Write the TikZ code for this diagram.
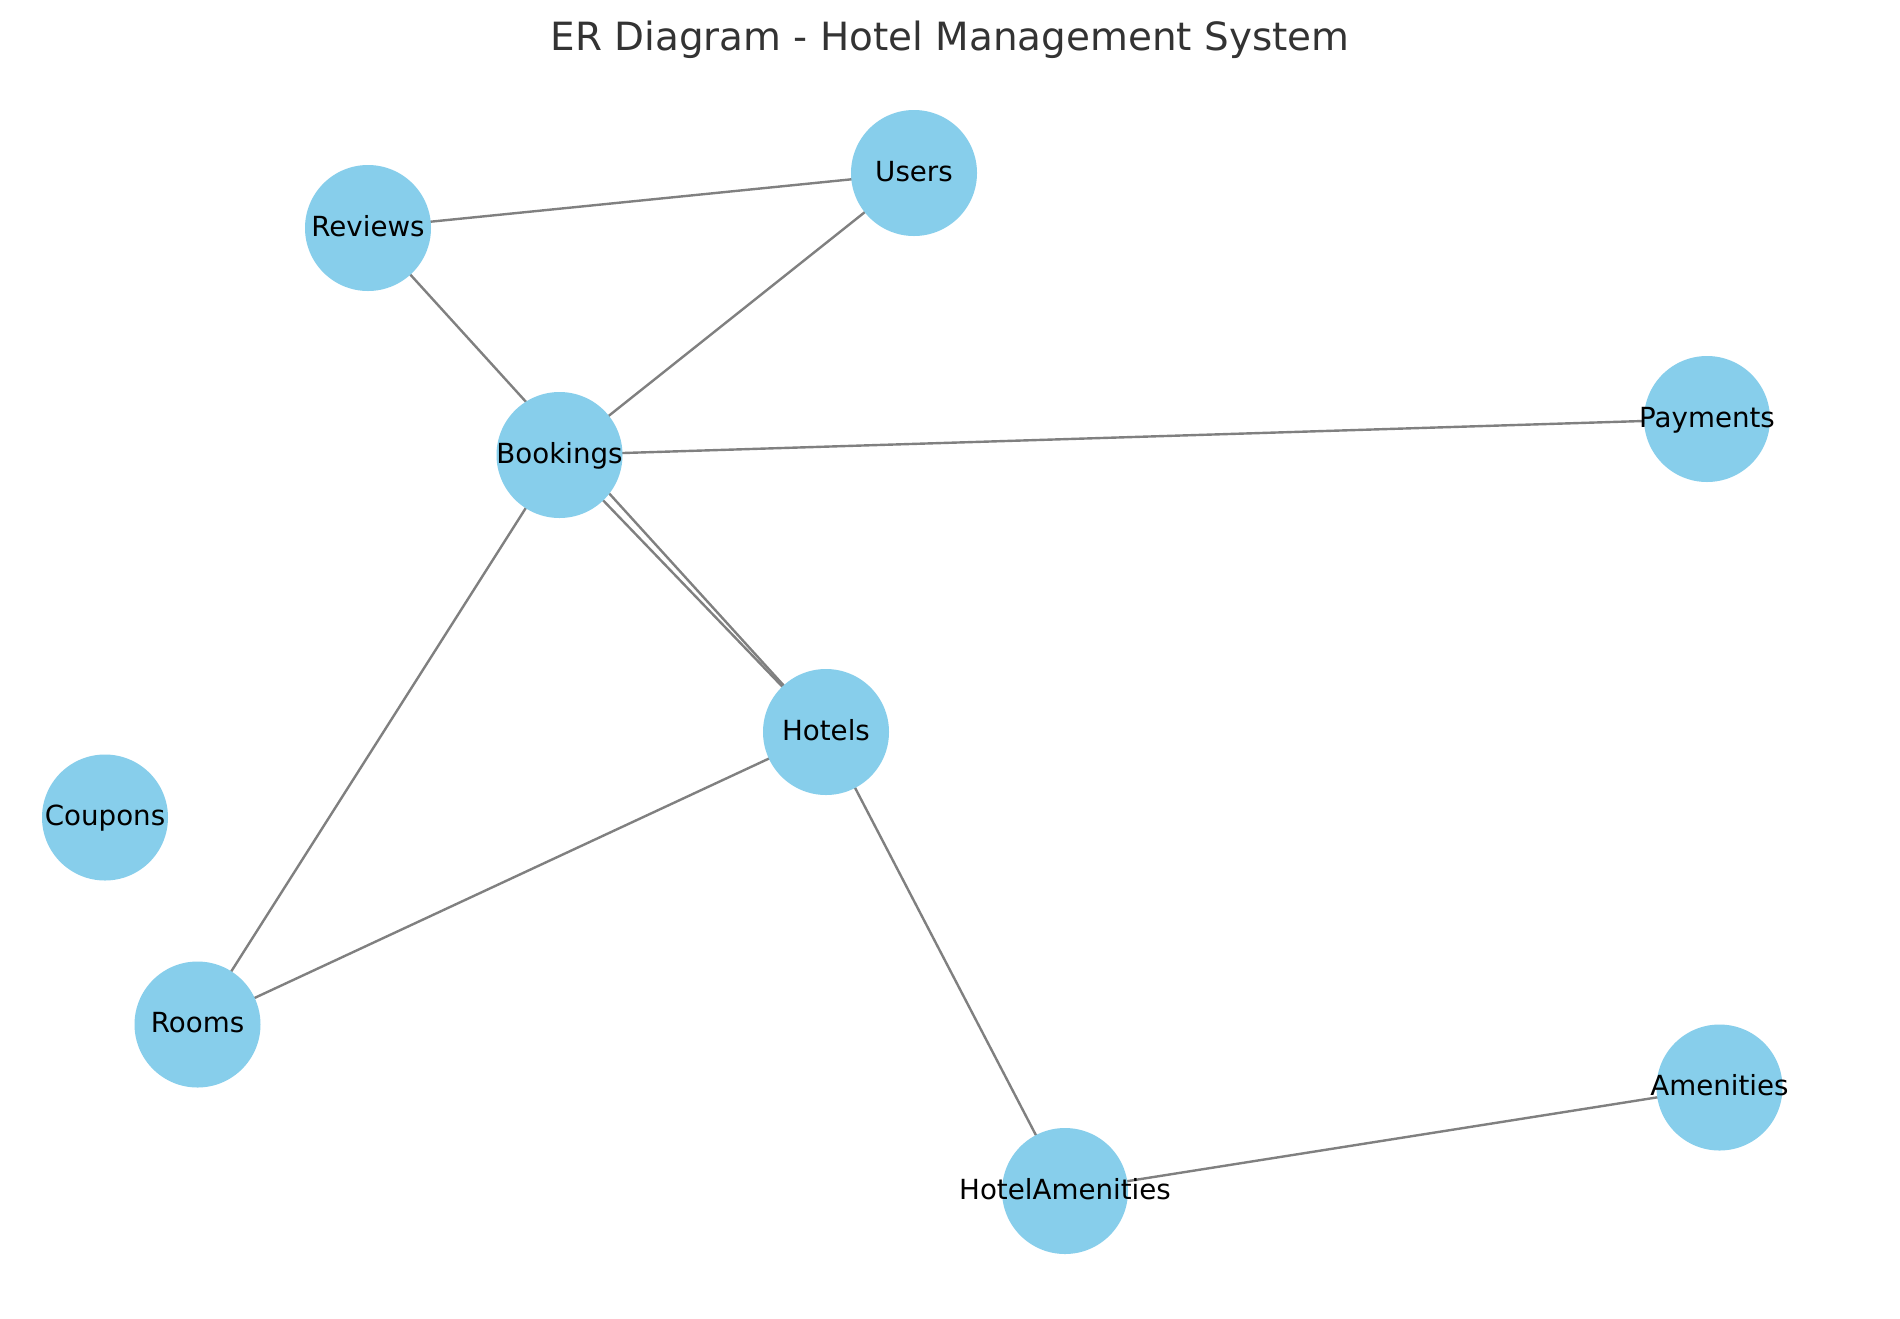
\documentclass[tikz,border=0pt]{standalone}
\usepackage{fontspec}
\setmainfont{DejaVu Sans}
\definecolor{skyblue}{HTML}{87CEEB}
\definecolor{edgegray}{HTML}{808080}
\definecolor{titlegray}{HTML}{333333}
\pgfdeclarelayer{bg}
\pgfsetlayers{bg,main}
\tikzset{
  ent/.style={circle, fill=skyblue, draw=none, minimum size=63pt, inner sep=0pt},
  lbl/.style={anchor=base, yshift=-4pt, inner sep=0pt, text=black, font=\fontsize{13.85pt}{16pt}\selectfont},
  rel/.style={draw=edgegray, line width=1.2pt},
  ttl/.style={anchor=base, inner sep=0pt, text=titlegray, font=\fontsize{19.45pt}{23pt}\selectfont}
}
\begin{document}
\begin{tikzpicture}[x=0.5pt, y=-0.5pt]
\useasboundingbox (0,0) rectangle (1900,1318);
\node[ttl] (title) at (950,50) {ER Diagram - Hotel Management System};

\node[ent] (Users) at (914,173) {};
\node[ent] (Reviews) at (368,228) {};
\node[ent] (Bookings) at (559.5,455) {};
\node[ent] (Payments) at (1707,419) {};
\node[ent] (Hotels) at (826,732) {};
\node[ent] (Coupons) at (105,817.5) {};
\node[ent] (Rooms) at (197.5,1024.5) {};
\node[ent] (Amenities) at (1719.5,1087.5) {};
\node[ent] (HotelAmenities) at (1065,1191) {};

\node[lbl] (UsersL) at (Users) {Users};
\node[lbl] (ReviewsL) at (Reviews) {Reviews};
\node[lbl] (BookingsL) at (Bookings) {Bookings};
\node[lbl] (PaymentsL) at (Payments) {Payments};
\node[lbl] (HotelsL) at (Hotels) {Hotels};
\node[lbl] (CouponsL) at (Coupons) {Coupons};
\node[lbl] (RoomsL) at (Rooms) {Rooms};
\node[lbl] (AmenitiesL) at (Amenities) {Amenities};
\node[lbl] (HotelAmenitiesL) at (HotelAmenities) {HotelAmenities};

\begin{pgfonlayer}{bg}
\fill[white] (0,0) rectangle (1900,1318);
\draw[rel] (Reviews.center) -- (Users.center);
\draw[rel] (Users.center) -- (Bookings.center);
\draw[rel] (Reviews.center) -- (Hotels.center);
\draw[rel] (Bookings.center) -- (Hotels.center);
\draw[rel] (Bookings.center) -- (Payments.center);
\draw[rel] (Bookings.center) -- (Rooms.center);
\draw[rel] (Hotels.center) -- (Rooms.center);
\draw[rel] (Hotels.center) -- (HotelAmenities.center);
\draw[rel] (HotelAmenities.center) -- (Amenities.center);
\end{pgfonlayer}
\end{tikzpicture}
\end{document}
